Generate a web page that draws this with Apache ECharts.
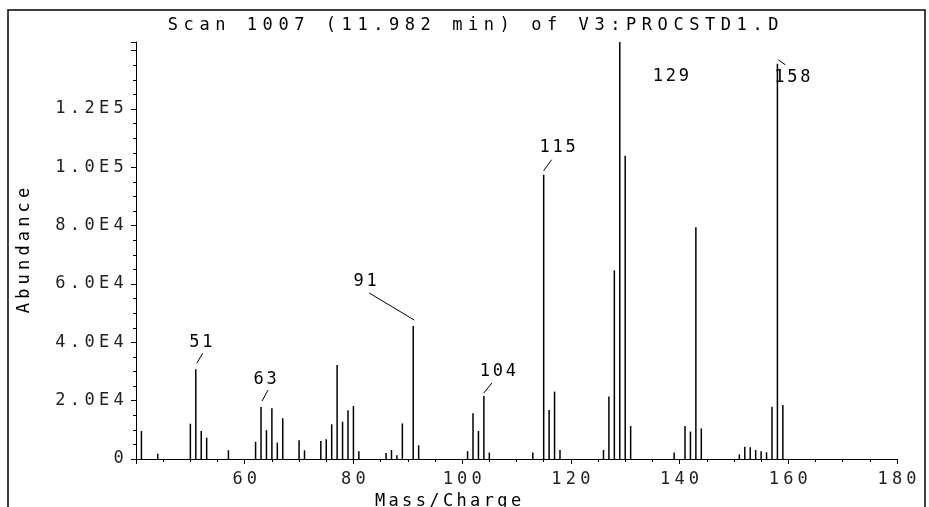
<!DOCTYPE html>
<html><head><meta charset="utf-8">
<script src="https://cdn.jsdelivr.net/npm/echarts@6/dist/echarts.min.js"></script>
<style>html,body{margin:0;padding:0;background:#fff;overflow:hidden}#c{width:929px;height:507px}</style>
</head><body><div id="c"></div>
<script>
// ---- data ----
const titleText = 'Scan 1007 (11.982 min) of V3:PROCSTD1.D';
const xAxisName = 'Mass/Charge';
const yAxisName = 'Abundance';
const massCharge = [41,44,50,51,52,53,57,62,63,64,65,66,67,70,71,74,75,76,77,78,79,80,81,86,87,88,89,91,92,101,102,103,104,105,113,115,116,117,118,126,127,128,129,130,131,139,141,142,143,144,151,152,153,154,155,156,157,158,159];
const abundance = [9600,1800,12100,30800,9600,7300,3000,5900,17800,9900,17400,5600,14000,6400,3000,6200,6800,11900,32200,12800,16700,18200,2700,2100,3100,1300,12200,45600,4700,2700,15700,9600,21600,2200,2200,97500,16800,23100,3100,3100,21400,64700,143000,104000,11300,2200,11300,9400,79500,10500,1600,4200,4000,3100,2700,2300,17900,135500,18500];
const labeledPeaks = [51,63,91,104,115,129,158];
const xTicks = [60,80,100,120,140,160,180];
const xTickLabels = ['60','80','100','120','140','160','180'];
const yTicks = [0,20000,40000,60000,80000,100000,120000];
const yTickLabels = ['0','2.0E4','4.0E4','6.0E4','8.0E4','1.0E5','1.2E5'];

// ---- styling (pixel offsets of peak labels / leader lines) ----
const peakLabelLayout = [
  {tx:5, ty:-27, line:[1,-6,7,-16]},
  {tx:4, ty:-28, line:[1,-6,7,-17]},
  {tx:-48, ty:-44, line:[1,-6,-44,-33]},
  {tx:14, ty:-24, line:[0,-3,8,-13]},
  {tx:14, ty:-27, line:[0,-4,8,-15]},
  {tx:51, ty:35, line:null},
  {tx:15, ty:14, line:[1,-4,8,1]}
];
const FONT = '"DejaVu Sans Mono", monospace';
const FS = 17;
function richStyle(w, color){ return {width:w, align:'center', fontFamily:FONT, fontSize:FS, fontWeight:'normal', color:color||'#000'}; }
function spaced(s, key){ return String(s).split('').map(ch => '{' + key + '|' + ch + '}').join(''); }

const chart = echarts.init(document.getElementById('c'), null, {renderer:'canvas', width: 929, height: 507});
chart.setOption({
  animation: false,
  backgroundColor: '#fff',
  title: {
    text: spaced(titleText, 't'),
    left: 160, top: 12,
    textStyle: {fontFamily: FONT, fontSize: FS, fontWeight: 'normal', rich: {t: richStyle(15.8, '#000')}}
  },
  graphic: [{
    type: 'rect', silent: true, z: -1,
    shape: {x: 8, y: 10, width: 917, height: 520},
    style: {fill: null, stroke: '#000', lineWidth: 1.5}
  }],
  grid: {left: 136, right: 32, top: 42, bottom: 48, containLabel: false, outerBoundsMode: 'none'},
  xAxis: {
    type: 'value', min: 40, max: 180, interval: 20,
    name: spaced(xAxisName, 'n'), nameLocation: 'middle', nameGap: 29,
    nameTextStyle: {fontFamily: FONT, fontSize: FS, padding: [0, 137, 0, 0], rich: {n: richStyle(13.6, '#000')}},
    axisLine: {show: true, lineStyle: {color: '#000', width: 1}},
    axisTick: {show: true, length: 5, lineStyle: {color: '#000'}},
    minorTick: {show: true, splitNumber: 4, length: 3, lineStyle: {color: '#000'}},
    splitLine: {show: false},
    axisLabel: {
      margin: 12, fontFamily: FONT, fontSize: FS,
      rich: {a: richStyle(14.4, '#222')},
      formatter: v => { const i = xTicks.indexOf(v); return i >= 0 ? spaced(xTickLabels[i], 'a') : ''; }
    }
  },
  yAxis: {
    type: 'value', min: 0, max: 143000, interval: 20000,
    name: spaced(yAxisName, 'n'), nameLocation: 'middle', nameGap: 103, nameRotate: 90,
    nameTextStyle: {fontFamily: FONT, fontSize: FS, rich: {n: richStyle(14.4, '#000')}},
    axisLine: {show: true, lineStyle: {color: '#000', width: 1}},
    axisTick: {show: true, length: 5, lineStyle: {color: '#000'}},
    minorTick: {show: true, splitNumber: 4, length: 3, lineStyle: {color: '#000'}},
    splitLine: {show: false},
    axisLabel: {
      margin: 10, fontFamily: FONT, fontSize: FS,
      rich: {a: richStyle(14.6, '#222')},
      formatter: v => { const i = yTicks.indexOf(v); return i >= 0 ? spaced(yTickLabels[i], 'a') : ''; }
    }
  },
  series: [{
    type: 'bar',
    data: massCharge.map((m, i) => [m, abundance[i]]),
    barWidth: 1.5,
    itemStyle: {color: '#000'},
    silent: true
  }, {
    type: 'custom',
    silent: true, clip: false, z: 5,
    data: labeledPeaks.map(m => [m, abundance[massCharge.indexOf(m)]]),
    encode: {x: 0, y: 1},
    renderItem: (params, api) => {
      const p = api.coord([api.value(0), api.value(1)]);
      const L = peakLabelLayout[params.dataIndex];
      const children = [{
        type: 'text', x: p[0] + L.tx, y: p[1] + L.ty,
        style: {text: spaced(api.value(0), 'p'), rich: {p: richStyle(13, '#000')},
                align: 'center', verticalAlign: 'middle', fill: '#000',
                font: FS + 'px ' + FONT}
      }];
      if (L.line) {
        children.push({type: 'line', shape: {x1: p[0] + L.line[0], y1: p[1] + L.line[1], x2: p[0] + L.line[2], y2: p[1] + L.line[3]},
          style: {stroke: '#000', lineWidth: 1}});
      }
      return {type: 'group', children: children};
    }
  }]
});
</script>
</body></html>
